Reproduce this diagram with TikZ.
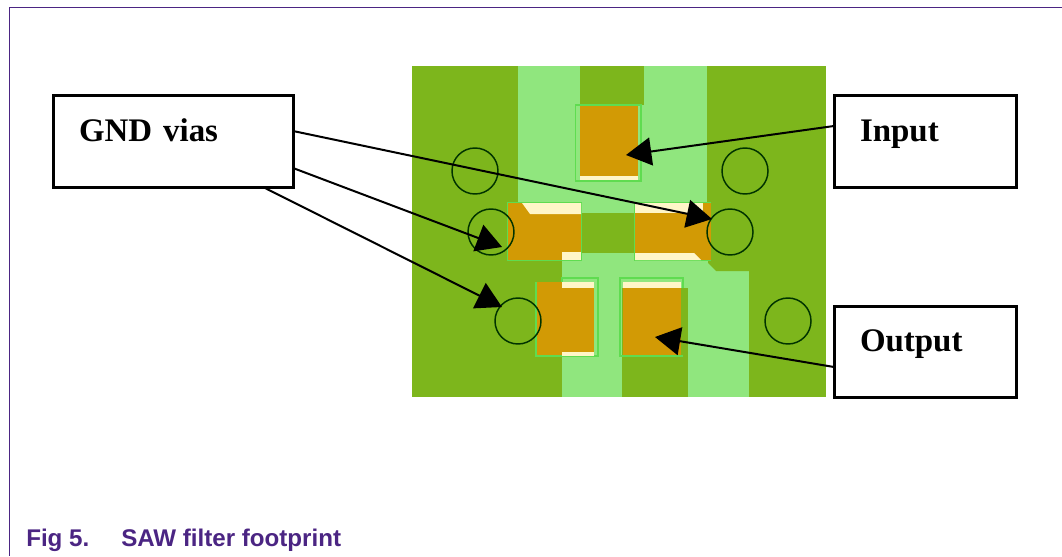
\documentclass[tikz,border=0pt]{standalone}
\usepackage{fontspec}
\setmainfont[BoldFeatures={WordSpace=0.72}]{Liberation Serif}
\newfontfamily\capfont{Liberation Sans}
\usetikzlibrary{arrows.meta}
\definecolor{framepurple}{HTML}{4B2583}
\definecolor{boardgreen}{HTML}{7DB61C}
\definecolor{lightgreen}{HTML}{90E67E}
\definecolor{padorange}{HTML}{D29A05}
\definecolor{padcream}{HTML}{FFF6C8}
\definecolor{outlinegreen}{HTML}{5FDC50}
\tikzset{
  x=0.75pt,y=-0.75pt,
  callout/.style={draw=black,line width=2.25pt,fill=white,minimum height=68.25pt,
    inner xsep=19.5pt,inner ysep=0pt,align=left,text height=0pt,text depth=0pt,
    font=\fontsize{24.7pt}{28pt}\selectfont\bfseries},
  via/.style={circle,draw=black!80!green,line width=1.1pt,minimum size=34.5pt,inner sep=0pt},
  pointer/.style={draw=black,line width=1.5pt,-{Triangle[length=19pt,width=21pt]}},
  padrim/.style={draw=outlinegreen,line width=0.8pt},
  orange/.style={fill=padorange},
  cream/.style={fill=padcream},
  caption/.style={text=framepurple,font=\capfont\fontsize{18.1pt}{20pt}\selectfont\bfseries,inner sep=0pt,anchor=base west}
}
\begin{document}
\begin{tikzpicture}
\useasboundingbox (0,0) rectangle (1062,556);
\fill[white] (0,0) rectangle (1062,556);
% frame
\draw[framepurple,line width=1.2pt] (1062,7.5) -- (9.5,7.5) -- (9.5,556);
% board
\fill[boardgreen] (412,66) rectangle (826,397);
\fill[lightgreen] (518,66) rectangle (707,213);
\fill[boardgreen] (580,66) rectangle (644,105);
\fill[lightgreen] (582,202) rectangle (634,213);
\fill[lightgreen] (562,253) rectangle (749,397);
\fill[boardgreen] (622,288) rectangle (688,397);
\fill[boardgreen] (582,213) rectangle (634,253);
\fill[boardgreen] (708,250) -- (749,250) -- (749,271) -- (716,271) -- (708,263) -- cycle;
% top pad
\fill[lightgreen] (575.5,105) rectangle (644,181);
\draw[padrim] (575.5,105) rectangle (641,181);
\fill[orange] (580,106) rectangle (638,176);
\fill[cream] (580,176) rectangle (638,180);
% middle left pad
\fill[outlinegreen] (507,202) rectangle (582,261);
\fill[orange] (507.5,202.5) rectangle (581,260);
\fill[cream] (522,203) -- (581,203) -- (581,214) -- (530,214) -- cycle;
\fill[cream] (562,252) rectangle (581,260);
% middle right pad
\fill[outlinegreen] (634,202) rectangle (711,261);
\fill[orange] (635,202.5) rectangle (711,260);
\fill[cream] (635,202.5) rectangle (703,213);
\fill[cream] (635,253) -- (694,253) -- (701,260) -- (635,260) -- cycle;
% bottom left pad
\draw[padrim] (562,278) rectangle (598,356);
\fill[orange] (536,282) rectangle (594,355.5);
\fill[cream] (562,282) rectangle (594,288);
\fill[cream] (562,352) rectangle (594,355.5);
\draw[padrim] (536,282) -- (536,356) -- (562,356);
% bottom right pad
\draw[padrim] (683,288) -- (683,278) -- (620,278) -- (620,356) -- (683,356);
\fill[orange] (622.5,288) rectangle (681,355);
\fill[cream] (622.5,282) rectangle (681,288);
% vias
\node[via] (v1) at (475,171) {};
\node[via] (v2) at (745,171) {};
\node[via] (v3) at (491,232) {};
\node[via] (v4) at (730,232) {};
\node[via] (v5) at (518,321) {};
\node[via] (v6) at (788,321) {};
% boxes
\node[callout,text width=141pt,minimum width=180pt] (gnd) at (173,141.5) {GND vias};
\node[callout,text width=97.5pt,minimum width=136.5pt] (inp) at (925,141.5) {Input};
\node[callout,text width=97.5pt,minimum width=136.5pt] (outp) at (925,351.5) {Output};
% caption
\node[caption] (fig) at (26,546) {Fig 5.};
\node[caption] (title) at (121,546) {SAW filter footprint};
% connector ends
\coordinate (gs1) at (293,131);
\coordinate (gs2) at (293,168);
\coordinate (gs3) at (263,187);
\coordinate (is) at (834,126);
\coordinate (os) at (834,367);
\coordinate (gt1) at (712,219);
\coordinate (gt2) at (502,247);
\coordinate (gt3) at (502,307);
\coordinate (it) at (626,155);
\coordinate (ot) at (655,337);
\draw[pointer] (gs1) -- (gt1);
\draw[pointer] (gs2) -- (gt2);
\draw[pointer] (gs3) -- (gt3);
\draw[pointer] (is) -- (it);
\draw[pointer] (os) -- (ot);
\end{tikzpicture}
\end{document}
